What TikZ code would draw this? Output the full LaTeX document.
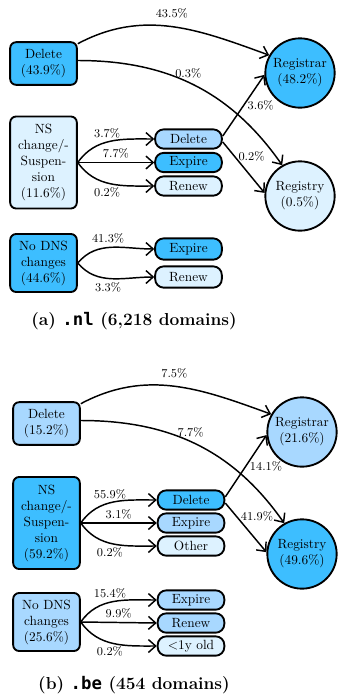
\documentclass[tikz,border=0pt]{standalone}
\usepackage{fontspec}
\newfontfamily\domfont{DejaVu Sans Mono}
\usepackage{tikz}
\usetikzlibrary{positioning,arrows.meta}
\usepackage{xcolor}

\definecolor{hiblue}{RGB}{61,190,255}
\definecolor{midblue}{RGB}{168,216,255}
\definecolor{loblue}{RGB}{221,242,255}

\tikzset{
  outbox/.style={draw,line width=1.4pt,rounded corners=4.5pt,align=center,
    minimum width=50pt,inner sep=1pt},
  pill/.style={draw,line width=1.4pt,rounded corners=6.5pt,
    minimum width=50pt,minimum height=14.5pt,inner sep=1pt},
  sink/.style={draw,circle,line width=1.4pt,align=center,minimum size=52pt,inner sep=0pt},
  flow/.style={->,line width=1.1pt},
  pct/.style={font=\small,inner sep=2.5pt},
  capt/.style={font=\fontsize{13}{15}\selectfont\bfseries}
}

\begin{document}
\begin{tikzpicture}[x=0.75pt,y=-0.75pt,>={Straight Barb[length=1.9mm,width=3.4mm]}]
\useasboundingbox (0,0) rectangle (337,696);

% (a) .nl
\node[outbox,fill=hiblue,minimum height=32pt] (dela) at (43.5,63.5) {Delete\\(43.9\%)};
\node[outbox,fill=loblue,minimum height=69pt] (nsa) at (43.5,162.5) {NS\\change/-\\Suspen-\\sion\\(11.6\%)};
\node[outbox,fill=hiblue,minimum height=43.5pt] (noa) at (43.5,263) {No DNS\\changes\\(44.6\%)};
\node[pill,fill=midblue] (pdela) at (188.5,139) {Delete};
\node[pill,fill=hiblue] (pexpa) at (188.5,162.5) {Expire};
\node[pill,fill=loblue] (prena) at (188.5,186) {Renew};
\node[pill,fill=hiblue,minimum height=16pt] (nexpa) at (188.5,249) {Expire};
\node[pill,fill=loblue,minimum height=16pt] (nrena) at (188.5,277) {Renew};
\node[sink,fill=hiblue] (rega) at (300,73) {Registrar\\(48.2\%)};
\node[sink,fill=loblue] (rya) at (300,196) {Registry\\(0.5\%)};
\node[capt] (capa) at (134,321) {(a) {\domfont .nl} (6,218 domains)};

\draw[flow] (dela.30) to[out=28,in=160] node[pct,above=3pt]{43.5\%} (rega.150);
\draw[flow] (dela.5) to[out=0,in=125] node[pct,above,pos=0.47]{0.3\%} (rya.120);
\draw[flow] (nsa.east) to[out=55,in=180] node[pct,above,pos=0.45]{3.7\%} (pdela.west);
\draw[flow] (nsa.east) -- node[pct,above]{7.7\%} (pexpa.west);
\draw[flow] (nsa.east) to[out=-55,in=180] node[pct,below,pos=0.45]{0.2\%} (prena.west);
\draw[flow] (pdela.5) -- node[pct,right]{3.6\%} (rega.183);
\draw[flow] (pdela.-5) -- node[pct,pos=0.28,anchor=west]{0.2\%} (rya.175);
\draw[flow] (noa.east) to[out=50,in=180] node[pct,above,pos=0.45]{41.3\%} (nexpa.west);
\draw[flow] (noa.east) to[out=-50,in=180] node[pct,below,pos=0.45]{3.3\%} (nrena.west);

% (b) .be
\node[outbox,fill=midblue,minimum height=32pt] (delb) at (46.5,423.5) {Delete\\(15.2\%)};
\node[outbox,fill=hiblue,minimum height=69pt] (nsb) at (46.5,523) {NS\\change/-\\Suspen-\\sion\\(59.2\%)};
\node[outbox,fill=midblue,minimum height=43.5pt] (nob) at (46.5,622) {No DNS\\changes\\(25.6\%)};
\node[pill,fill=hiblue] (pdelb) at (191,500) {Delete};
\node[pill,fill=midblue] (pexpb) at (191,523) {Expire};
\node[pill,fill=loblue] (pothb) at (191,546) {Other};
\node[pill,fill=midblue] (nexpb) at (191,600) {Expire};
\node[pill,fill=midblue] (nrenb) at (191,623) {Renew};
\node[pill,fill=loblue] (nnewb) at (191,646) {<1y old};
\node[sink,fill=midblue] (regb) at (302,432) {Registrar\\(21.6\%)};
\node[sink,fill=hiblue] (ryb) at (302,554) {Registry\\(49.6\%)};
\node[capt] (capb) at (134,685) {(b) {\domfont .be} (454 domains)};

\draw[flow] (delb.30) to[out=28,in=160] node[pct,above=3pt]{7.5\%} (regb.150);
\draw[flow] (delb.5) to[out=0,in=125] node[pct,above,pos=0.47]{7.7\%} (ryb.120);
\draw[flow] (nsb.east) to[out=55,in=180] node[pct,above,pos=0.45]{55.9\%} (pdelb.west);
\draw[flow] (nsb.east) -- node[pct,above]{3.1\%} (pexpb.west);
\draw[flow] (nsb.east) to[out=-55,in=180] node[pct,below,pos=0.45]{0.2\%} (pothb.west);
\draw[flow] (pdelb.5) -- node[pct,right]{14.1\%} (regb.185);
\draw[flow] (pdelb.-5) -- node[pct,pos=0.28,anchor=west]{41.9\%} (ryb.177);
\draw[flow] (nob.east) to[out=55,in=180] node[pct,above,pos=0.45]{15.4\%} (nexpb.west);
\draw[flow] (nob.east) -- node[pct,above]{9.9\%} (nrenb.west);
\draw[flow] (nob.east) to[out=-55,in=180] node[pct,below,pos=0.45]{0.2\%} (nnewb.west);
\end{tikzpicture}
\end{document}
